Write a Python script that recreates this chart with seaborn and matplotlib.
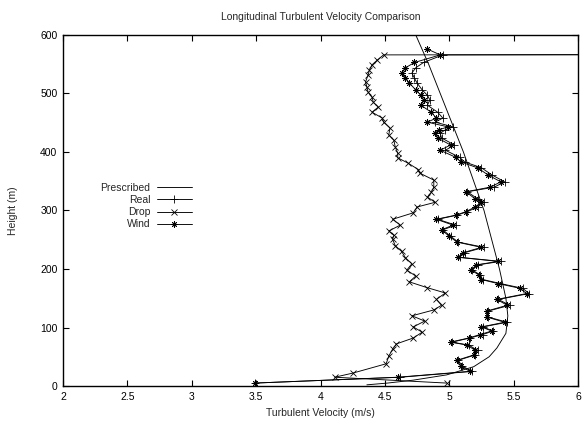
import matplotlib
matplotlib.use("Agg")
import matplotlib.pyplot as plt
import seaborn as sns
import pandas as pd

# ---- data ----
prescribed_h = [2, 5, 10, 19, 33, 50, 65, 90, 120, 150, 200, 250, 300, 350, 400, 450, 500, 550, 600]
prescribed_v = [4.36, 4.52, 4.72, 4.98, 5.19, 5.31, 5.37, 5.44, 5.455, 5.44, 5.39, 5.33, 5.27, 5.19, 5.11, 5.02, 4.93, 4.84, 4.74]

real_h = [5, 15, 25, 34, 44, 53, 61, 70, 75, 82, 88, 94, 101, 109, 118, 128, 138, 148, 158, 167,
          175, 182, 190, 198, 207, 213, 220, 228, 237, 246, 256, 267, 275, 285, 292, 298, 306, 314,
          320, 332, 340, 349, 361, 373, 383, 391, 403, 412, 424, 432, 438, 443, 451, 458, 468, 480,
          489, 497, 506, 518, 526, 535, 544, 553, 566, 567]
real_v = [3.49, 4.62, 5.18, 5.10, 5.07, 5.20, 5.22, 5.15, 5.02, 5.16, 5.26, 5.34, 5.26, 5.45, 5.30,
          5.30, 5.47, 5.38, 5.62, 5.57, 5.40, 5.26, 5.24, 5.18, 5.22, 5.40, 5.08, 5.12, 5.27, 5.07,
          5.01, 4.95, 5.05, 4.91, 5.06, 5.14, 5.22, 5.27, 5.22, 5.14, 5.35, 5.43, 5.33, 5.25, 5.12,
          5.08, 4.97, 5.04, 4.94, 4.93, 4.97, 5.03, 4.89, 4.95, 4.91, 4.83, 4.85, 4.83, 4.79, 4.75,
          4.73, 4.71, 4.74, 4.80, 4.95, 9.0]

wind_h = [5, 15, 25, 34, 44, 53, 61, 70, 75, 82, 88, 94, 101, 109, 118, 128, 138, 148, 158, 167,
          175, 182, 190, 198, 207, 213, 220, 228, 237, 246, 256, 267, 275, 285, 292, 298, 306, 314,
          320, 332, 340, 349, 361, 373, 383, 391, 403, 412, 424, 432, 438, 443, 451, 458, 468, 480,
          489, 497, 506, 518, 526, 535, 544, 553, 566, 576]
wind_v = [3.49, 4.60, 5.16, 5.09, 5.06, 5.19, 5.20, 5.14, 5.01, 5.15, 5.24, 5.33, 5.25, 5.43, 5.29,
          5.29, 5.45, 5.37, 5.60, 5.55, 5.38, 5.25, 5.23, 5.17, 5.21, 5.38, 5.07, 5.11, 5.25, 5.06,
          5.00, 4.94, 5.03, 4.90, 5.05, 5.13, 5.20, 5.25, 5.20, 5.13, 5.32, 5.40, 5.30, 5.22, 5.09,
          5.05, 4.93, 5.01, 4.91, 4.89, 4.92, 4.99, 4.83, 4.90, 4.86, 4.78, 4.80, 4.78, 4.74, 4.69,
          4.66, 4.63, 4.66, 4.73, 4.93, 4.83]

drop_h = [5, 15, 22, 38, 51, 63, 72, 82, 92, 101, 111, 120, 130, 138, 148, 159, 168, 178, 188, 198,
          209, 219, 230, 240, 251, 258, 265, 275, 285, 296, 306, 314, 323, 331, 340, 352, 364, 370,
          381, 390, 398, 409, 420, 429, 441, 451, 458, 468, 477, 485, 494, 502, 511, 520, 532, 540,
          549, 557, 566, 567]
drop_v = [4.98, 4.11, 4.25, 4.51, 4.53, 4.56, 4.59, 4.72, 4.79, 4.72, 4.81, 4.71, 4.88, 4.94, 4.90,
          4.97, 4.83, 4.69, 4.74, 4.67, 4.71, 4.66, 4.63, 4.58, 4.56, 4.57, 4.53, 4.62, 4.56, 4.72,
          4.75, 4.89, 4.83, 4.86, 4.88, 4.88, 4.77, 4.76, 4.68, 4.60, 4.60, 4.58, 4.57, 4.53, 4.54,
          4.49, 4.48, 4.40, 4.45, 4.41, 4.40, 4.37, 4.36, 4.35, 4.37, 4.38, 4.40, 4.44, 4.49, 9.0]

x_ticks = [2, 2.5, 3, 3.5, 4, 4.5, 5, 5.5, 6]
x_tick_labels = ["2", "2.5", "3", "3.5", "4", "4.5", "5", "5.5", "6"]
y_ticks = [0, 100, 200, 300, 400, 500, 600]

# ---- styling ----
sns.set_style("ticks")
plt.rcParams["font.family"] = ["Liberation Sans", "DejaVu Sans"]
plt.rcParams["font.size"] = 7.5

fig = plt.figure(figsize=(5.87, 4.21), dpi=100)
ax = fig.add_axes([63 / 587, 1 - 386 / 421, (578 - 63) / 587, (386 - 35) / 421])

lw = 0.65
mk = dict(markeredgecolor="black", markerfacecolor="black", markeredgewidth=0.6)
sns.lineplot(data=pd.DataFrame({"v": prescribed_v, "h": prescribed_h}), x="v", y="h",
             sort=False, estimator=None, color="black", lw=lw, ax=ax, label="Prescribed")
sns.lineplot(data=pd.DataFrame({"v": real_v, "h": real_h}), x="v", y="h",
             sort=False, estimator=None, color="black", lw=lw, marker="+", markersize=5.5,
             ax=ax, label="Real", **mk)
sns.lineplot(data=pd.DataFrame({"v": drop_v, "h": drop_h}), x="v", y="h",
             sort=False, estimator=None, color="black", lw=lw, marker="x", markersize=4.5,
             ax=ax, label="Drop", **mk)
sns.lineplot(data=pd.DataFrame({"v": wind_v, "h": wind_h}), x="v", y="h",
             sort=False, estimator=None, color="black", lw=lw, marker=(8, 2, 0), markersize=4.5,
             ax=ax, label="Wind", **mk)

ax.set_xlim(2, 6)
ax.set_ylim(0, 600)
ax.set_xticks(x_ticks)
ax.set_xticklabels(x_tick_labels)
ax.set_yticks(y_ticks)
ax.tick_params(direction="in", top=True, right=True, length=4, width=0.8, labelsize=7.5, pad=4,
               colors="black")
for s in ax.spines.values():
    s.set_visible(True)
    s.set_linewidth(1.0)
    s.set_color("black")

ax.set_xlabel("Turbulent Velocity (m/s)", fontsize=7.5, labelpad=5)
ax.set_ylabel("Height (m)", fontsize=7.5, labelpad=16)
ax.set_title("Longitudinal Turbulent Velocity Comparison", fontsize=7.5, pad=11)

leg = ax.legend(loc="upper right", bbox_to_anchor=(192 / 587, 1 - 183 / 421),
                bbox_transform=fig.transFigure, frameon=False, markerfirst=False,
                handlelength=3.4, handletextpad=0.6, labelspacing=0.2, borderpad=0,
                borderaxespad=0, fontsize=7.5)

fig.savefig("out.png", dpi=100)
